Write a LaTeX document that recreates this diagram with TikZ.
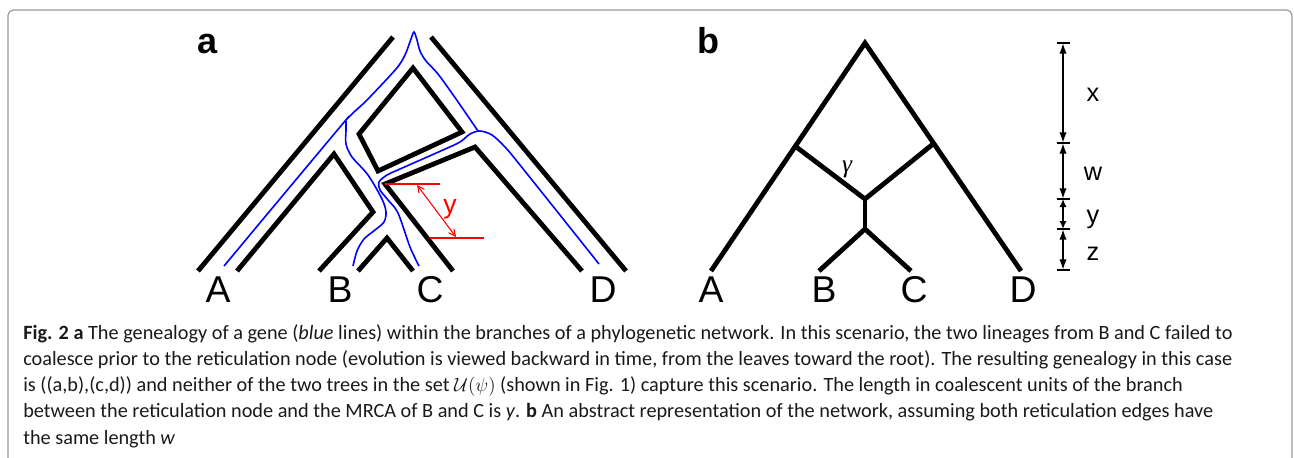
\documentclass[tikz,border=0pt]{standalone}
\usepackage{fontspec}
\setmainfont{Carlito}
\newfontfamily\labelfont{Liberation Sans}
\newfontfamily\greekfont{Liberation Serif}
\usetikzlibrary{arrows.meta}

\begin{document}
\begin{tikzpicture}[
    x=0.75pt, y=-0.75pt,
    branch/.style={line width=3.6pt, line join=miter},
    gene/.style={blue, line width=1.2pt},
    marker/.style={red, line width=0.8pt},
    bar/.style={line width=1.3pt},
    leaf/.style={font=\labelfont\fontsize{28}{28}\selectfont, anchor=base, inner sep=0pt},
    panel/.style={font=\labelfont\bfseries\fontsize{27}{27}\selectfont, anchor=base, inner sep=0pt},
    len/.style={font=\labelfont\fontsize{19}{19}\selectfont, anchor=base, inner sep=0pt},
    caption/.style={font=\fontsize{15.2}{19.7}\selectfont, align=left, inner sep=0pt, text=black!90}
  ]
  \useasboundingbox (0,0) rectangle (1294,457);
  \draw[gray!80, line width=0.9pt, rounded corners=4pt] (8,10) rectangle (1292,520);

  % panel a: network drawn as tubes
  \node[panel] (pa) at (208,53) {a};
  \draw[branch] (393,37) -- (198,271);
  \draw[branch] (431,37) -- (626,271);
  \draw[branch] (413,68) -- (462,132) -- (378,171) -- (359,134) -- cycle;
  \draw[branch] (237,271) -- (334,154) -- (373,212) -- (319,271);
  \draw[branch] (358,271) -- (387,238) -- (413,271);
  \draw[branch] (453,271) -- (385,184) -- (475,147) -- (582,271);

  % gene lineages
  \draw[gene] plot[smooth, tension=0.5] coordinates {(224,266) (284,194) (340,127) (346,120) (354,112) (367,100) (396,69) (405,55) (411,39) (414,32) (417,40) (420,51) (426,61) (438,74) (456,99) (478,131)};
  \draw[gene] plot[smooth, tension=0.5] coordinates {(353,266) (357,251) (364,239) (375,230) (384,222) (386,212) (382,199) (368,175) (352,157) (346,144) (346,130) (346,121)};
  \draw[gene] plot[smooth, tension=0.5] coordinates {(419,266) (410,247) (398,213) (388,200) (380,190) (379,182) (387,175) (400,169) (443,150) (460,142) (470,134) (480,131) (492,135) (505,147) (520,165) (599,264)};

  % branch length y
  \coordinate (ytop) at (385,184);
  \coordinate (ybot) at (430,238);
  \draw[marker] (ytop) -- (440,184);
  \draw[marker] (ybot) -- (484,238);
  \draw[marker, {Straight Barb[length=5pt,width=5pt]}-{Straight Barb[length=5pt,width=5pt]}] (417,185) -- (456,237);
  \node[len, red, font=\labelfont\fontsize{20}{20}\selectfont] (ylab) at (450,213) {y};

  \node[leaf] (la) at (218,302) {A};
  \node[leaf] (lb) at (340,302) {B};
  \node[leaf] (lc) at (430,302) {C};
  \node[leaf] (ld) at (603,302) {D};

  % panel b: abstract network
  \node[panel] (pb) at (708,53) {b};
  \coordinate (root) at (865,43);
  \coordinate (left) at (795,146);
  \coordinate (right) at (933,144);
  \coordinate (ret) at (865,199);
  \coordinate (mrca) at (865,229);
  \coordinate (a) at (711,271);
  \coordinate (b) at (819,271);
  \coordinate (c) at (911,271);
  \coordinate (d) at (1021,271);
  \draw[branch] (a) -- (root) -- (d);
  \draw[branch] (left) -- (ret) -- (right);
  \draw[branch] (ret) -- (mrca);
  \draw[branch] (b) -- (mrca) -- (c);
  \node[font=\greekfont\itshape\fontsize{19}{19}\selectfont, inner sep=0pt] (gam) at (847,169) {γ};

  \node[leaf] (ba) at (711,302) {A};
  \node[leaf] (bb) at (824,302) {B};
  \node[leaf] (bc) at (914,302) {C};
  \node[leaf] (bd) at (1023,302) {D};

  % time scale
  \coordinate (t0) at (1063,43);
  \coordinate (t1) at (1063,143);
  \coordinate (t2) at (1063,199);
  \coordinate (t3) at (1063,229);
  \coordinate (t4) at (1063,270);
  \draw[bar] (1056.5,43) -- (1069.5,43);
  \draw[bar] (1056.5,143) -- (1069.5,143);
  \draw[bar] (1056.5,199) -- (1069.5,199);
  \draw[bar] (1056.5,229) -- (1069.5,229);
  \draw[bar] (1056.5,270) -- (1069.5,270);
  \draw[bar, {Latex[length=8pt,width=5.5pt]}-{Latex[length=8pt,width=5.5pt]}] (t0) -- (t1);
  \draw[bar, {Latex[length=8pt,width=5.5pt]}-{Latex[length=8pt,width=5.5pt]}] (t1) -- (t2);
  \draw[bar, {Latex[length=6pt,width=5.5pt]}-{Latex[length=6pt,width=5.5pt]}] (t2) -- (t3);
  \draw[bar, {Latex[length=8pt,width=5.5pt]}-{Latex[length=8pt,width=5.5pt]}] (t3) -- (t4);
  \node[len] (lx) at (1093,101) {x};
  \node[len] (lw) at (1093,180) {w};
  \node[len] (ly) at (1093,223) {y};
  \node[len] (lz) at (1093,260) {z};

  \node[caption, anchor=north west] (cap) at (23,324) {\textbf{Fig. 2 a} The genealogy of a gene (\textit{blue} lines) within the branches of a phylogenetic network. In this scenario, the two lineages from B and C failed to\\
    coalesce prior to the reticulation node (evolution is viewed backward in time, from the leaves toward the root). The resulting genealogy in this case\\
    is ((a,b),(c,d)) and neither of the two trees in the set $\mathcal{U}(\psi)$ (shown in Fig. 1) capture this scenario. The length in coalescent units of the branch\\
    between the reticulation node and the MRCA of B and C is \textit{y}. \textbf{b} An abstract representation of the network, assuming both reticulation edges have\\
    the same length \textit{w}};
\end{tikzpicture}
\end{document}
